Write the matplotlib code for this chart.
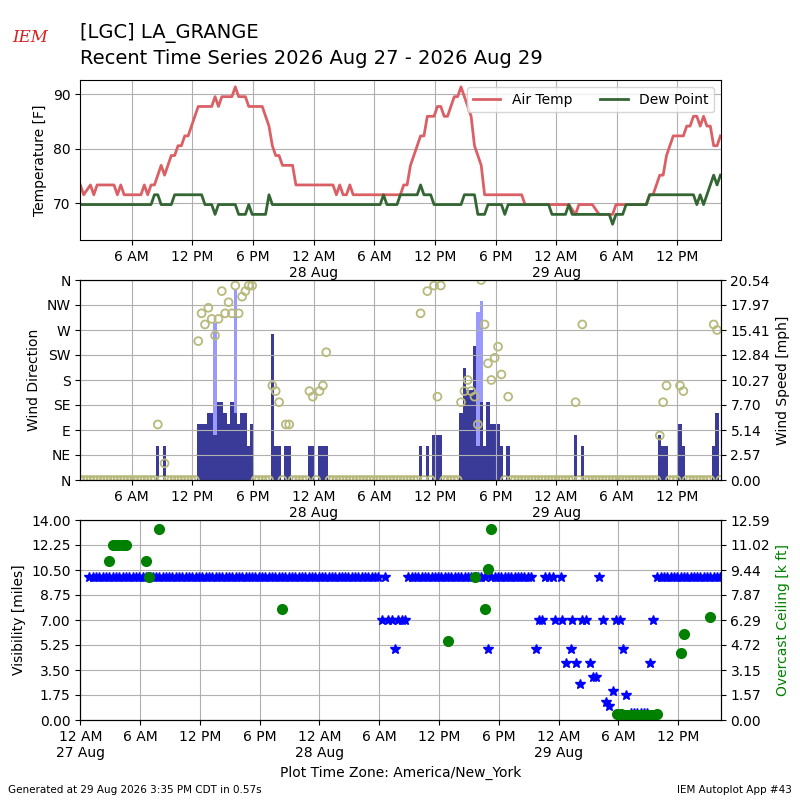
import numpy as np
import matplotlib
matplotlib.use("Agg")
import matplotlib.pyplot as plt
from matplotlib.ticker import FixedLocator, FormatStrFormatter

# ---------------- data ----------------
# routine observations every 20 minutes, first one at 00:55 on 27 Aug (hours since 27 Aug 00:00)
FIRST_OB_H = 55 / 60
OB_STEP_H = 20 / 60
N_OBS = 191
PLOT_END_H = 64.28

# temperature vertices (observation index, deg F)
TEMP_K = [0, 1, 3, 4, 5, 10, 11, 12, 13, 18, 19, 20, 21, 22, 24, 25, 27, 28, 29, 30, 31, 32, 33, 35,
          39, 40, 41, 42, 45, 46, 47, 49, 50, 54, 56, 57, 58, 59, 60, 63, 64, 75, 76, 77, 78, 79, 80, 81,
          95, 96, 97, 98, 99, 100, 101, 102, 103, 105, 106, 107, 108, 109, 111, 112, 113, 114, 116, 117,
          119, 120, 131, 132, 145, 147, 148, 152, 154, 158, 159, 168, 169, 170, 171, 172, 173, 174, 175,
          176, 179, 180, 181, 182, 183, 184, 185, 186, 187, 188, 189, 190]
TEMP_F = [73.4, 71.6, 73.4, 71.6, 73.4, 73.4, 71.6, 73.4, 71.6, 71.6, 73.4, 71.6, 73.4, 73.4, 77.0, 75.2,
          78.8, 78.8, 80.6, 80.6, 82.4, 82.4, 84.2, 87.8,
          87.8, 89.6, 87.8, 89.6, 89.6, 91.4, 89.6, 89.6, 87.8, 87.8, 84.2, 80.6, 78.8, 78.8, 77.0, 77.0,
          73.4, 73.4, 71.6, 73.4, 71.6, 71.6, 73.4, 71.6,
          71.6, 73.4, 73.4, 77.0, 78.8, 80.6, 82.4, 82.4, 86.0, 86.0, 87.8, 87.8, 86.0, 86.0, 89.6, 89.6,
          91.4, 89.6, 86.0, 80.6,
          77.0, 71.6, 71.6, 69.8, 69.8, 68.0, 69.8, 69.8, 68.0, 68.0, 69.8, 69.8, 71.6, 71.6, 73.4, 75.2,
          75.2, 78.8, 80.6,
          82.4, 82.4, 84.2, 84.2, 86.0, 86.0, 84.2, 86.0, 84.2, 84.2, 80.6, 80.6, 82.4]
DEW_K = [0, 21, 22, 23, 24, 27, 28, 36, 37, 39, 40, 41, 46, 47, 49, 50, 51, 55, 56, 57, 89, 90, 91, 94,
         95, 100, 101, 102, 104, 105, 113, 114, 117, 118, 120, 121, 125, 126, 127, 139, 140, 144, 145,
         146, 157, 158, 159, 161, 162, 168, 169, 182, 183, 184, 185, 188, 189, 190]
DEW_F = [69.8, 69.8, 71.6, 71.6, 69.8, 69.8, 71.6, 71.6, 69.8, 69.8, 68.0, 69.8, 69.8, 68.0, 68.0, 69.8,
         68.0, 68.0, 71.6, 69.8, 69.8, 71.6, 69.8, 69.8,
         71.6, 71.6, 73.4, 71.6, 71.6, 69.8, 69.8, 71.6, 71.6, 68.0, 68.0, 69.8, 69.8, 68.0, 69.8, 69.8,
         68.0, 68.0, 69.8,
         68.0, 68.0, 66.2, 68.0, 68.0, 69.8, 69.8, 71.6, 71.6, 69.8, 71.6, 69.8, 75.2, 73.4, 75.2]

# wind: observations with non-calm wind (index, knots, direction deg); all others calm (0 kt, 0 deg)
WIND_K = [23, 25,
          35, 36, 37, 38, 39, 40, 41, 42, 43, 44, 45, 46, 47, 48, 49, 50, 51,
          57, 58, 59, 61, 62, 68, 69, 71, 72, 73,
          101, 103, 105, 106, 107,
          113, 114, 115, 116, 117, 118, 119, 120, 121, 122, 123, 124, 125, 127,
          147, 149, 172, 173, 174, 178, 179, 188, 189]
WIND_KT = [3, 3,
           5, 5, 5, 6, 6, 4, 7, 7, 6, 5, 7, 6, 5, 6, 6, 3, 5,
           13, 3, 3, 3, 3, 3, 3, 3, 3, 3,
           3, 3, 4, 4, 4,
           6, 10, 8, 8, 12, 3, 7, 3, 7, 5, 5, 5, 3, 3,
           4, 3, 4, 3, 3, 5, 3, 3, 6]
WIND_DIR = [100, 30,
            250, 300, 280, 310, 290, 260, 290, 340, 300, 320, 300, 350, 300, 330, 340, 350, 350,
            170, 160, 140, 100, 100, 160, 150, 160, 170, 230,
            300, 340, 350, 150, 350,
            140, 160, 180, 160, 150, 100, 360, 280, 210, 180, 220, 240, 190, 150,
            140, 280, 80, 140, 170, 170, 160, 280, 270]
GUST_K = [40, 46, 118, 119]
GUST_KT = [14, 17, 15, 16]
KT_TO_MPH = 1.15078

# visibility (miles): routine observations by index
VIS_K = (list(range(0, 88)) + [88, 89, 90, 91, 92, 93, 94, 95] + list(range(96, 120)) + [120]
         + list(range(121, 134)) + list(range(171, 191)))
VIS_MI = ([10.0] * 88 + [7.0, 10.0, 7.0, 7.0, 5.0, 7.0, 7.0, 7.0] + [10.0] * 24 + [5.0]
          + [10.0] * 13 + [10.0] * 20)
# visibility: reports during the 29 Aug morning fog (hours since 27 Aug 00:00)
VIS_SPEC_H = [45.71, 46.04, 46.38, 46.61, 47.05, 47.45, 47.62, 48.22, 48.39, 48.72, 49.22, 49.39,
              49.79, 50.16, 50.33, 50.73, 51.13, 51.47, 51.80, 52.07, 52.47, 52.74, 53.05, 53.50,
              53.81, 54.14, 54.51, 54.81, 55.24, 55.57, 55.91, 56.24, 56.57, 56.91, 57.14, 57.47]
VIS_SPEC_MI = [5.0, 7.0, 7.0, 10.0, 10.0, 10.0, 7.0, 10.0, 7.0, 4.0, 5.0, 7.0,
               4.0, 2.5, 7.0, 7.0, 4.0, 3.0, 3.0, 10.0, 7.0, 1.25, 1.0, 2.0,
               7.0, 7.0, 5.0, 1.75, 0.5, 0.5, 0.5, 0.5, 0.5, 0.5, 4.0, 7.0]

# overcast ceiling (k ft) by observation index
CEIL_K = [6, 7, 8, 9, 10, 11, 17, 18, 21, 58, 108, 116, 119, 120, 121,
          159, 160, 161, 162, 163, 164, 165, 166, 167, 168, 169, 170, 171, 178, 179, 187]
CEIL_KFT = [10.0, 11.0, 11.0, 11.0, 11.0, 11.0, 10.0, 9.0, 12.0, 7.0, 5.0, 9.0, 7.0, 9.5, 12.0,
            0.4, 0.4, 0.3, 0.3, 0.3, 0.3, 0.3, 0.3, 0.3, 0.3, 0.3, 0.3, 0.4, 4.2, 5.4, 6.5]

TICK_H = list(range(0, 61, 6))
DIR_LABELS = ["N", "NE", "E", "SE", "S", "SW", "W", "NW", "N"]
SPEED_TOP = 20.542
CEIL_TOP = 12.5893
VIS_TOP = 14.0


def ob_hours(ks):
    return FIRST_OB_H + np.asarray(ks, dtype=float) * OB_STEP_H


def tick_label(h):
    hod = h % 24
    s = {0: "12 AM", 6: "6 AM", 12: "12 PM", 18: "6 PM"}[hod]
    if hod == 0:
        s += "\n%d Aug" % (27 + h // 24)
    return s


def style_x(ax, left):
    ax.set_xticks(TICK_H)
    ax.set_xticklabels([tick_label(h) for h in TICK_H])
    ax.set_xlim(left, PLOT_END_H)


# ---------------- figure ----------------
fig = plt.figure(figsize=(8, 8), dpi=100)
L, W = 0.1004, 0.8005

# --- temperature panel
ax_t = fig.add_axes([L, 0.70, W, 0.1996])
ax_t.plot(ob_hours(TEMP_K), TEMP_F, color="#db6065", lw=2, label="Air Temp")
ax_t.plot(ob_hours(DEW_K), DEW_F, color="#346633", lw=2, label="Dew Point")
ax_t.set_ylim(63.3, 92.6)
ax_t.set_yticks([70, 80, 90])
ax_t.set_ylabel("Temperature [F]")
style_x(ax_t, FIRST_OB_H)
ax_t.grid(True)
ax_t.legend(loc="upper right", ncol=2)

# --- wind panel
obs_k = np.arange(N_OBS)
speed_kt = np.zeros(N_OBS)
direction = np.zeros(N_OBS)
speed_kt[WIND_K] = WIND_KT
direction[WIND_K] = WIND_DIR

ax_s = fig.add_axes([L, 0.40, W, 0.25])
ax_d = ax_s.twinx()

ax_s.bar(ob_hours(GUST_K), np.array(GUST_KT) * KT_TO_MPH, width=OB_STEP_H, color="#9999ff")
ax_s.bar(ob_hours(obs_k), speed_kt * KT_TO_MPH, width=OB_STEP_H, color="#3a3a98")
ax_s.set_ylim(0, SPEED_TOP)
ax_s.yaxis.set_major_locator(FixedLocator(np.linspace(0, SPEED_TOP, 9)))
ax_s.yaxis.set_major_formatter(FormatStrFormatter("%.2f"))
ax_s.yaxis.tick_right()
ax_s.yaxis.set_label_position("right")
ax_s.set_ylabel("Wind Speed [mph]")
style_x(ax_s, FIRST_OB_H)
ax_s.grid(True)

ax_d.scatter(ob_hours(obs_k), direction, s=32, facecolors="none", edgecolors="#b8b97c", linewidths=1.3)
ax_d.set_ylim(0, 360)
ax_d.set_yticks(np.arange(0, 361, 45))
ax_d.set_yticklabels(DIR_LABELS)
ax_d.yaxis.tick_left()
ax_d.yaxis.set_label_position("left")
ax_d.set_ylabel("Wind Direction")
style_x(ax_d, FIRST_OB_H)

# --- visibility / ceiling panel
ax_v = fig.add_axes([L, 0.10, W, 0.25])
ax_c = ax_v.twinx()

ax_v.plot(ob_hours(VIS_K), VIS_MI, "*", color="blue", ms=7, ls="none")
ax_v.plot(VIS_SPEC_H, VIS_SPEC_MI, "*", color="blue", ms=7, ls="none")
ax_v.set_ylim(0, VIS_TOP)
ax_v.yaxis.set_major_locator(FixedLocator(np.linspace(0, VIS_TOP, 9)))
ax_v.yaxis.set_major_formatter(FormatStrFormatter("%.2f"))
ax_v.yaxis.tick_left()
ax_v.set_ylabel("Visibility [miles]")
style_x(ax_v, 0)
ax_v.grid(True)
ax_v.set_xlabel("Plot Time Zone: America/New_York")

ax_c.plot(ob_hours(CEIL_K), CEIL_KFT, "o", color="green", ms=7, ls="none")
ax_c.set_ylim(0, CEIL_TOP)
ax_c.yaxis.set_major_locator(FixedLocator(np.linspace(0, CEIL_TOP, 9)))
ax_c.yaxis.set_major_formatter(FormatStrFormatter("%.2f"))
ax_c.set_ylabel("Overcast Ceiling [k ft]", color="green")
style_x(ax_c, 0)

# --- titles and footers
fig.text(0.1004, 0.953, "[LGC] LA_GRANGE", fontsize=14, va="baseline")
fig.text(0.1004, 0.9195, "Recent Time Series 2026 Aug 27 - 2026 Aug 29", fontsize=14, va="baseline")
fig.text(0.0375, 0.947, "IEM", fontsize=12, color="#d42020", family="DejaVu Serif",
         style="italic", ha="center", va="baseline")
fig.text(0.01, 0.009, "Generated at 29 Aug 2026 3:35 PM CDT in 0.57s", fontsize=7.5)
fig.text(0.99, 0.009, "IEM Autoplot App #43", fontsize=7.5, ha="right")

fig.savefig("out.png", dpi=100)
